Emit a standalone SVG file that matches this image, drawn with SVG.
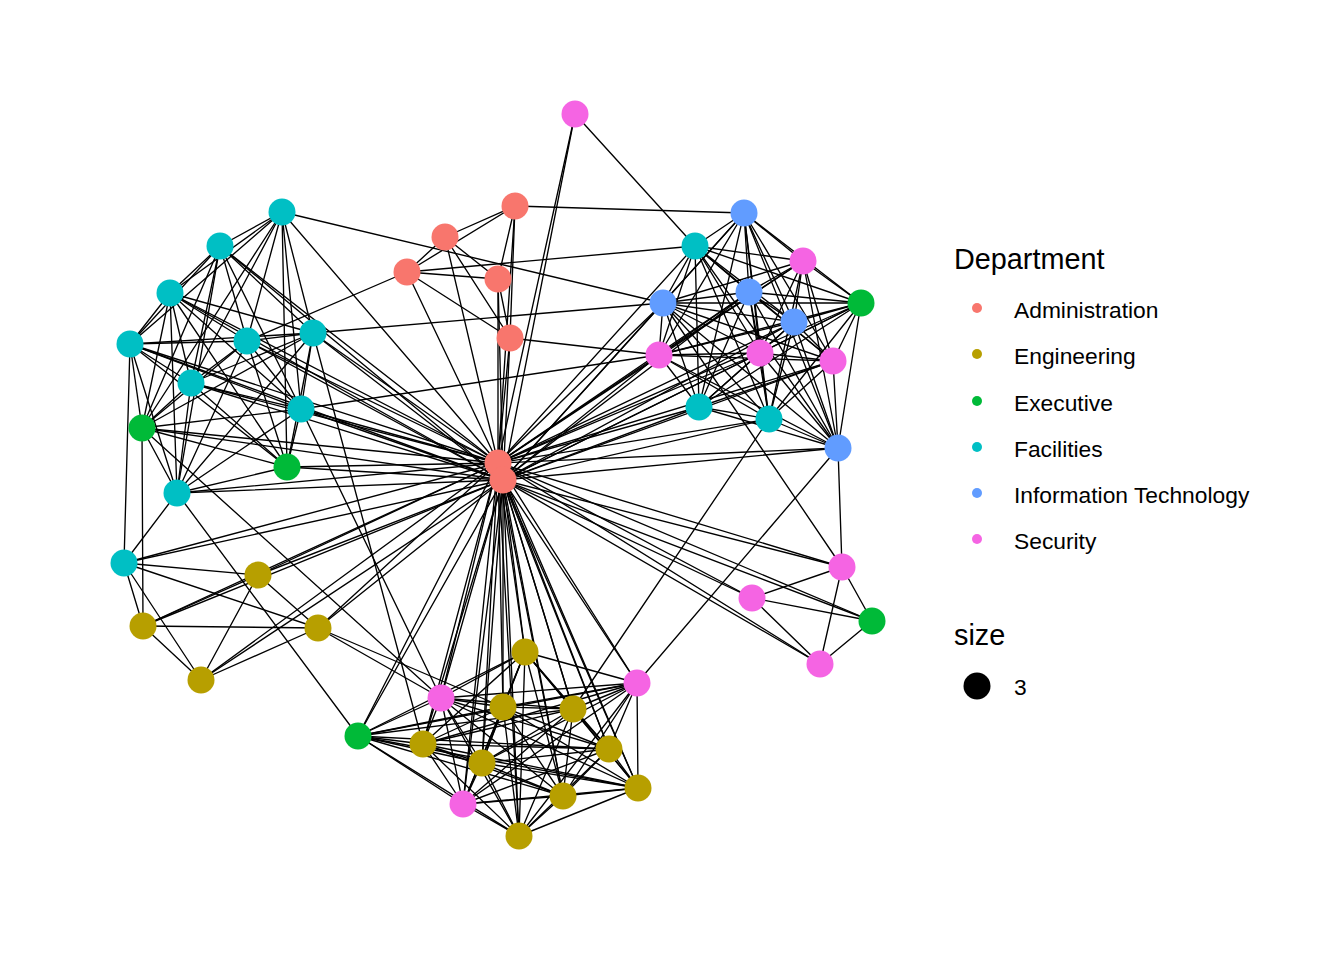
<svg xmlns="http://www.w3.org/2000/svg" width="1344" height="960" viewBox="0 0 1344 960">
<style>
#edges line{stroke:#000;stroke-width:1.35;stroke-linecap:round}
.n{stroke:none}
.adm{fill:#F8766D}.eng{fill:#B79F00}.exe{fill:#00BA38}.fac{fill:#00BFC4}.it{fill:#619CFF}.sec{fill:#F564E3}
text{font-family:"Liberation Sans",Arial,sans-serif;fill:#000}
.lt{font-size:28.8px}.ll{font-size:22.8px}
</style>
<rect width="1344" height="960" fill="#fff"/>
<g id="edges">
<!-- administration -->
<line x1="515" y1="206" x2="445" y2="237"/><line x1="515" y1="206" x2="407" y2="272"/><line x1="515" y1="206" x2="498" y2="279"/><line x1="515" y1="206" x2="510" y2="338"/><line x1="515" y1="206" x2="498" y2="463"/><line x1="515" y1="206" x2="744" y2="213"/>
<line x1="445" y1="237" x2="407" y2="272"/><line x1="445" y1="237" x2="498" y2="279"/><line x1="445" y1="237" x2="510" y2="338"/><line x1="445" y1="237" x2="498" y2="463"/>
<line x1="407" y1="272" x2="498" y2="279"/><line x1="407" y1="272" x2="510" y2="338"/><line x1="407" y1="272" x2="498" y2="463"/><line x1="407" y1="272" x2="695" y2="246"/><line x1="407" y1="272" x2="247" y2="341"/>
<line x1="498" y1="279" x2="498" y2="463"/><line x1="498" y1="279" x2="503" y2="480"/><line x1="498" y1="279" x2="510" y2="338"/>
<line x1="510" y1="338" x2="498" y2="463"/><line x1="510" y1="338" x2="503" y2="480"/><line x1="510" y1="338" x2="659" y2="355"/>
<line x1="575" y1="114" x2="498" y2="463"/><line x1="575" y1="114" x2="503" y2="480"/><line x1="575" y1="114" x2="695" y2="246"/>
<line x1="498" y1="463" x2="503" y2="480"/>
<line x1="282" y1="212" x2="663" y2="303"/><line x1="313" y1="333" x2="663" y2="303"/><line x1="301" y1="409" x2="659" y2="355"/>
<!-- left cluster -->
<line x1="282" y1="212" x2="220" y2="246"/><line x1="282" y1="212" x2="170" y2="293"/><line x1="282" y1="212" x2="130" y2="344"/><line x1="282" y1="212" x2="247" y2="341"/><line x1="282" y1="212" x2="313" y2="333"/><line x1="282" y1="212" x2="191" y2="383"/><line x1="282" y1="212" x2="301" y2="409"/><line x1="282" y1="212" x2="287" y2="467"/><line x1="282" y1="212" x2="142" y2="428"/>
<line x1="220" y1="246" x2="170" y2="293"/><line x1="220" y1="246" x2="130" y2="344"/><line x1="220" y1="246" x2="247" y2="341"/><line x1="220" y1="246" x2="313" y2="333"/><line x1="220" y1="246" x2="191" y2="383"/><line x1="220" y1="246" x2="301" y2="409"/><line x1="220" y1="246" x2="142" y2="428"/><line x1="220" y1="246" x2="177" y2="493"/>
<line x1="170" y1="293" x2="130" y2="344"/><line x1="170" y1="293" x2="247" y2="341"/><line x1="170" y1="293" x2="313" y2="333"/><line x1="170" y1="293" x2="191" y2="383"/><line x1="170" y1="293" x2="301" y2="409"/><line x1="170" y1="293" x2="142" y2="428"/><line x1="170" y1="293" x2="177" y2="493"/><line x1="170" y1="293" x2="287" y2="467"/>
<line x1="130" y1="344" x2="247" y2="341"/><line x1="130" y1="344" x2="313" y2="333"/><line x1="130" y1="344" x2="191" y2="383"/><line x1="130" y1="344" x2="301" y2="409"/><line x1="130" y1="344" x2="142" y2="428"/><line x1="130" y1="344" x2="177" y2="493"/><line x1="130" y1="344" x2="287" y2="467"/><line x1="130" y1="344" x2="124" y2="563"/>
<line x1="247" y1="341" x2="313" y2="333"/><line x1="247" y1="341" x2="191" y2="383"/><line x1="247" y1="341" x2="301" y2="409"/><line x1="247" y1="341" x2="142" y2="428"/><line x1="247" y1="341" x2="177" y2="493"/><line x1="247" y1="341" x2="287" y2="467"/>
<line x1="313" y1="333" x2="191" y2="383"/><line x1="313" y1="333" x2="301" y2="409"/><line x1="313" y1="333" x2="142" y2="428"/><line x1="313" y1="333" x2="287" y2="467"/><line x1="313" y1="333" x2="177" y2="493"/>
<line x1="191" y1="383" x2="301" y2="409"/><line x1="191" y1="383" x2="142" y2="428"/><line x1="191" y1="383" x2="177" y2="493"/><line x1="191" y1="383" x2="287" y2="467"/>
<line x1="301" y1="409" x2="142" y2="428"/><line x1="301" y1="409" x2="177" y2="493"/><line x1="301" y1="409" x2="287" y2="467"/>
<line x1="142" y1="428" x2="177" y2="493"/><line x1="142" y1="428" x2="287" y2="467"/><line x1="142" y1="428" x2="143" y2="626"/><line x1="142" y1="428" x2="441" y2="698"/>
<line x1="177" y1="493" x2="287" y2="467"/><line x1="177" y1="493" x2="124" y2="563"/><line x1="177" y1="493" x2="358" y2="736"/>
<line x1="124" y1="563" x2="258" y2="575"/><line x1="124" y1="563" x2="143" y2="626"/><line x1="124" y1="563" x2="318" y2="628"/><line x1="124" y1="563" x2="201" y2="680"/>
<line x1="258" y1="575" x2="143" y2="626"/><line x1="258" y1="575" x2="318" y2="628"/><line x1="258" y1="575" x2="201" y2="680"/>
<line x1="143" y1="626" x2="318" y2="628"/><line x1="143" y1="626" x2="201" y2="680"/><line x1="201" y1="680" x2="318" y2="628"/>
<line x1="318" y1="628" x2="441" y2="698"/><line x1="318" y1="628" x2="503" y2="707"/>
<line x1="313" y1="333" x2="423" y2="744"/><line x1="301" y1="409" x2="441" y2="698"/>
<!-- hub to left -->
<line x1="498" y1="463" x2="282" y2="212"/><line x1="498" y1="463" x2="220" y2="246"/><line x1="498" y1="463" x2="170" y2="293"/><line x1="498" y1="463" x2="130" y2="344"/><line x1="498" y1="463" x2="247" y2="341"/><line x1="498" y1="463" x2="313" y2="333"/><line x1="498" y1="463" x2="191" y2="383"/><line x1="498" y1="463" x2="301" y2="409"/><line x1="498" y1="463" x2="177" y2="493"/><line x1="498" y1="463" x2="124" y2="563"/><line x1="498" y1="463" x2="142" y2="428"/><line x1="498" y1="463" x2="287" y2="467"/><line x1="498" y1="463" x2="258" y2="575"/><line x1="498" y1="463" x2="143" y2="626"/><line x1="498" y1="463" x2="318" y2="628"/><line x1="498" y1="463" x2="201" y2="680"/>
<line x1="503" y1="480" x2="220" y2="246"/><line x1="503" y1="480" x2="170" y2="293"/><line x1="503" y1="480" x2="130" y2="344"/><line x1="503" y1="480" x2="247" y2="341"/><line x1="503" y1="480" x2="313" y2="333"/><line x1="503" y1="480" x2="191" y2="383"/><line x1="503" y1="480" x2="301" y2="409"/><line x1="503" y1="480" x2="177" y2="493"/><line x1="503" y1="480" x2="124" y2="563"/><line x1="503" y1="480" x2="142" y2="428"/><line x1="503" y1="480" x2="287" y2="467"/><line x1="503" y1="480" x2="258" y2="575"/><line x1="503" y1="480" x2="143" y2="626"/><line x1="503" y1="480" x2="318" y2="628"/><line x1="503" y1="480" x2="201" y2="680"/>
<!-- hub to bottom -->
<line x1="498" y1="463" x2="525" y2="652"/><line x1="498" y1="463" x2="503" y2="707"/><line x1="498" y1="463" x2="573" y2="709"/><line x1="498" y1="463" x2="423" y2="744"/><line x1="498" y1="463" x2="609" y2="749"/><line x1="498" y1="463" x2="482" y2="763"/><line x1="498" y1="463" x2="563" y2="796"/><line x1="498" y1="463" x2="638" y2="788"/><line x1="498" y1="463" x2="519" y2="836"/><line x1="498" y1="463" x2="441" y2="698"/><line x1="498" y1="463" x2="463" y2="804"/><line x1="498" y1="463" x2="637" y2="683"/><line x1="498" y1="463" x2="358" y2="736"/>
<line x1="503" y1="480" x2="525" y2="652"/><line x1="503" y1="480" x2="503" y2="707"/><line x1="503" y1="480" x2="573" y2="709"/><line x1="503" y1="480" x2="423" y2="744"/><line x1="503" y1="480" x2="609" y2="749"/><line x1="503" y1="480" x2="482" y2="763"/><line x1="503" y1="480" x2="563" y2="796"/><line x1="503" y1="480" x2="638" y2="788"/><line x1="503" y1="480" x2="519" y2="836"/><line x1="503" y1="480" x2="441" y2="698"/><line x1="503" y1="480" x2="463" y2="804"/><line x1="503" y1="480" x2="637" y2="683"/><line x1="503" y1="480" x2="358" y2="736"/>
<!-- hub to right -->
<line x1="498" y1="463" x2="663" y2="303"/><line x1="498" y1="463" x2="659" y2="355"/><line x1="498" y1="463" x2="749" y2="292"/><line x1="498" y1="463" x2="760" y2="353"/><line x1="498" y1="463" x2="794" y2="322"/><line x1="498" y1="463" x2="833" y2="361"/><line x1="498" y1="463" x2="699" y2="407"/><line x1="498" y1="463" x2="769" y2="419"/><line x1="498" y1="463" x2="838" y2="448"/><line x1="498" y1="463" x2="861" y2="303"/><line x1="498" y1="463" x2="803" y2="261"/><line x1="498" y1="463" x2="695" y2="246"/>
<line x1="503" y1="480" x2="663" y2="303"/><line x1="503" y1="480" x2="659" y2="355"/><line x1="503" y1="480" x2="749" y2="292"/><line x1="503" y1="480" x2="760" y2="353"/><line x1="503" y1="480" x2="794" y2="322"/><line x1="503" y1="480" x2="833" y2="361"/><line x1="503" y1="480" x2="699" y2="407"/><line x1="503" y1="480" x2="769" y2="419"/><line x1="503" y1="480" x2="838" y2="448"/><line x1="503" y1="480" x2="861" y2="303"/><line x1="503" y1="480" x2="744" y2="213"/>
<line x1="498" y1="463" x2="842" y2="567"/><line x1="498" y1="463" x2="752" y2="598"/><line x1="498" y1="463" x2="872" y2="621"/><line x1="498" y1="463" x2="820" y2="664"/>
<line x1="503" y1="480" x2="842" y2="567"/><line x1="503" y1="480" x2="752" y2="598"/><line x1="503" y1="480" x2="872" y2="621"/><line x1="503" y1="480" x2="820" y2="664"/>
<!-- right cluster -->
<line x1="744" y1="213" x2="695" y2="246"/><line x1="744" y1="213" x2="803" y2="261"/><line x1="744" y1="213" x2="749" y2="292"/><line x1="744" y1="213" x2="861" y2="303"/><line x1="744" y1="213" x2="663" y2="303"/><line x1="744" y1="213" x2="794" y2="322"/><line x1="744" y1="213" x2="659" y2="355"/><line x1="744" y1="213" x2="760" y2="353"/><line x1="744" y1="213" x2="833" y2="361"/><line x1="744" y1="213" x2="699" y2="407"/><line x1="744" y1="213" x2="769" y2="419"/><line x1="744" y1="213" x2="838" y2="448"/>
<line x1="695" y1="246" x2="803" y2="261"/><line x1="695" y1="246" x2="749" y2="292"/><line x1="695" y1="246" x2="861" y2="303"/><line x1="695" y1="246" x2="663" y2="303"/><line x1="695" y1="246" x2="794" y2="322"/><line x1="695" y1="246" x2="659" y2="355"/><line x1="695" y1="246" x2="760" y2="353"/><line x1="695" y1="246" x2="833" y2="361"/><line x1="695" y1="246" x2="699" y2="407"/><line x1="695" y1="246" x2="769" y2="419"/><line x1="695" y1="246" x2="838" y2="448"/>
<line x1="803" y1="261" x2="749" y2="292"/><line x1="803" y1="261" x2="861" y2="303"/><line x1="803" y1="261" x2="663" y2="303"/><line x1="803" y1="261" x2="794" y2="322"/><line x1="803" y1="261" x2="659" y2="355"/><line x1="803" y1="261" x2="760" y2="353"/><line x1="803" y1="261" x2="833" y2="361"/><line x1="803" y1="261" x2="769" y2="419"/><line x1="803" y1="261" x2="838" y2="448"/>
<line x1="749" y1="292" x2="861" y2="303"/><line x1="749" y1="292" x2="663" y2="303"/><line x1="749" y1="292" x2="794" y2="322"/><line x1="749" y1="292" x2="659" y2="355"/><line x1="749" y1="292" x2="760" y2="353"/><line x1="749" y1="292" x2="833" y2="361"/><line x1="749" y1="292" x2="699" y2="407"/><line x1="749" y1="292" x2="769" y2="419"/><line x1="749" y1="292" x2="838" y2="448"/>
<line x1="861" y1="303" x2="663" y2="303"/><line x1="861" y1="303" x2="794" y2="322"/><line x1="861" y1="303" x2="659" y2="355"/><line x1="861" y1="303" x2="760" y2="353"/><line x1="861" y1="303" x2="833" y2="361"/><line x1="861" y1="303" x2="699" y2="407"/><line x1="861" y1="303" x2="769" y2="419"/><line x1="861" y1="303" x2="838" y2="448"/>
<line x1="663" y1="303" x2="794" y2="322"/><line x1="663" y1="303" x2="659" y2="355"/><line x1="663" y1="303" x2="760" y2="353"/><line x1="663" y1="303" x2="833" y2="361"/><line x1="663" y1="303" x2="699" y2="407"/><line x1="663" y1="303" x2="769" y2="419"/><line x1="663" y1="303" x2="838" y2="448"/>
<line x1="794" y1="322" x2="659" y2="355"/><line x1="794" y1="322" x2="760" y2="353"/><line x1="794" y1="322" x2="833" y2="361"/><line x1="794" y1="322" x2="699" y2="407"/><line x1="794" y1="322" x2="769" y2="419"/><line x1="794" y1="322" x2="838" y2="448"/>
<line x1="659" y1="355" x2="760" y2="353"/><line x1="659" y1="355" x2="833" y2="361"/><line x1="659" y1="355" x2="699" y2="407"/><line x1="659" y1="355" x2="769" y2="419"/><line x1="659" y1="355" x2="838" y2="448"/>
<line x1="760" y1="353" x2="833" y2="361"/><line x1="760" y1="353" x2="699" y2="407"/><line x1="760" y1="353" x2="769" y2="419"/><line x1="760" y1="353" x2="838" y2="448"/>
<line x1="833" y1="361" x2="699" y2="407"/><line x1="833" y1="361" x2="769" y2="419"/><line x1="833" y1="361" x2="838" y2="448"/>
<line x1="699" y1="407" x2="769" y2="419"/><line x1="699" y1="407" x2="838" y2="448"/><line x1="769" y1="419" x2="838" y2="448"/>
<!-- lower right -->
<line x1="838" y1="448" x2="842" y2="567"/><line x1="838" y1="448" x2="637" y2="683"/><line x1="663" y1="303" x2="842" y2="567"/><line x1="769" y1="419" x2="573" y2="709"/>
<line x1="842" y1="567" x2="752" y2="598"/><line x1="842" y1="567" x2="872" y2="621"/><line x1="842" y1="567" x2="820" y2="664"/><line x1="752" y1="598" x2="872" y2="621"/><line x1="752" y1="598" x2="820" y2="664"/><line x1="872" y1="621" x2="820" y2="664"/>
<!-- bottom cluster -->
<line x1="525" y1="652" x2="503" y2="707"/><line x1="525" y1="652" x2="573" y2="709"/><line x1="525" y1="652" x2="423" y2="744"/><line x1="525" y1="652" x2="609" y2="749"/><line x1="525" y1="652" x2="482" y2="763"/><line x1="525" y1="652" x2="563" y2="796"/><line x1="525" y1="652" x2="638" y2="788"/><line x1="525" y1="652" x2="519" y2="836"/><line x1="525" y1="652" x2="441" y2="698"/><line x1="525" y1="652" x2="637" y2="683"/><line x1="525" y1="652" x2="358" y2="736"/><line x1="525" y1="652" x2="463" y2="804"/>
<line x1="503" y1="707" x2="573" y2="709"/><line x1="503" y1="707" x2="423" y2="744"/><line x1="503" y1="707" x2="609" y2="749"/><line x1="503" y1="707" x2="482" y2="763"/><line x1="503" y1="707" x2="563" y2="796"/><line x1="503" y1="707" x2="638" y2="788"/><line x1="503" y1="707" x2="519" y2="836"/><line x1="503" y1="707" x2="441" y2="698"/><line x1="503" y1="707" x2="637" y2="683"/><line x1="503" y1="707" x2="463" y2="804"/><line x1="503" y1="707" x2="358" y2="736"/>
<line x1="573" y1="709" x2="423" y2="744"/><line x1="573" y1="709" x2="609" y2="749"/><line x1="573" y1="709" x2="482" y2="763"/><line x1="573" y1="709" x2="563" y2="796"/><line x1="573" y1="709" x2="638" y2="788"/><line x1="573" y1="709" x2="519" y2="836"/><line x1="573" y1="709" x2="441" y2="698"/><line x1="573" y1="709" x2="637" y2="683"/><line x1="573" y1="709" x2="463" y2="804"/><line x1="573" y1="709" x2="358" y2="736"/>
<line x1="423" y1="744" x2="609" y2="749"/><line x1="423" y1="744" x2="482" y2="763"/><line x1="423" y1="744" x2="563" y2="796"/><line x1="423" y1="744" x2="638" y2="788"/><line x1="423" y1="744" x2="519" y2="836"/><line x1="423" y1="744" x2="441" y2="698"/><line x1="423" y1="744" x2="637" y2="683"/><line x1="423" y1="744" x2="463" y2="804"/><line x1="423" y1="744" x2="358" y2="736"/>
<line x1="609" y1="749" x2="482" y2="763"/><line x1="609" y1="749" x2="563" y2="796"/><line x1="609" y1="749" x2="638" y2="788"/><line x1="609" y1="749" x2="519" y2="836"/><line x1="609" y1="749" x2="441" y2="698"/><line x1="609" y1="749" x2="637" y2="683"/><line x1="609" y1="749" x2="463" y2="804"/><line x1="609" y1="749" x2="358" y2="736"/>
<line x1="482" y1="763" x2="563" y2="796"/><line x1="482" y1="763" x2="638" y2="788"/><line x1="482" y1="763" x2="519" y2="836"/><line x1="482" y1="763" x2="441" y2="698"/><line x1="482" y1="763" x2="637" y2="683"/><line x1="482" y1="763" x2="463" y2="804"/><line x1="482" y1="763" x2="358" y2="736"/>
<line x1="563" y1="796" x2="638" y2="788"/><line x1="563" y1="796" x2="519" y2="836"/><line x1="563" y1="796" x2="441" y2="698"/><line x1="563" y1="796" x2="637" y2="683"/><line x1="563" y1="796" x2="463" y2="804"/><line x1="563" y1="796" x2="358" y2="736"/>
<line x1="638" y1="788" x2="519" y2="836"/><line x1="638" y1="788" x2="441" y2="698"/><line x1="638" y1="788" x2="637" y2="683"/><line x1="638" y1="788" x2="463" y2="804"/><line x1="638" y1="788" x2="358" y2="736"/>
<line x1="519" y1="836" x2="441" y2="698"/><line x1="519" y1="836" x2="637" y2="683"/><line x1="519" y1="836" x2="463" y2="804"/><line x1="519" y1="836" x2="358" y2="736"/>
<line x1="441" y1="698" x2="637" y2="683"/><line x1="441" y1="698" x2="463" y2="804"/><line x1="441" y1="698" x2="358" y2="736"/>
<line x1="637" y1="683" x2="463" y2="804"/><line x1="637" y1="683" x2="358" y2="736"/><line x1="463" y1="804" x2="358" y2="736"/>
</g>
<g id="nodes">
<g id="n-admin-1"><circle class="n adm" cx="515" cy="206" r="13.5"/></g>
<g id="n-admin-2"><circle class="n adm" cx="445" cy="237" r="13.5"/></g>
<g id="n-admin-3"><circle class="n adm" cx="407" cy="272" r="13.5"/></g>
<g id="n-admin-4"><circle class="n adm" cx="498" cy="279" r="13.5"/></g>
<g id="n-admin-5"><circle class="n adm" cx="510" cy="338" r="13.5"/></g>
<g id="n-admin-6"><circle class="n adm" cx="498" cy="463" r="13.5"/></g>
<g id="n-admin-7"><circle class="n adm" cx="503" cy="480" r="13.5"/></g>
<g id="n-eng-1"><circle class="n eng" cx="258" cy="575" r="13.5"/></g>
<g id="n-eng-2"><circle class="n eng" cx="143" cy="626" r="13.5"/></g>
<g id="n-eng-3"><circle class="n eng" cx="318" cy="628" r="13.5"/></g>
<g id="n-eng-4"><circle class="n eng" cx="201" cy="680" r="13.5"/></g>
<g id="n-eng-5"><circle class="n eng" cx="525" cy="652" r="13.5"/></g>
<g id="n-eng-6"><circle class="n eng" cx="503" cy="707" r="13.5"/></g>
<g id="n-eng-7"><circle class="n eng" cx="573" cy="709" r="13.5"/></g>
<g id="n-eng-8"><circle class="n eng" cx="423" cy="744" r="13.5"/></g>
<g id="n-eng-9"><circle class="n eng" cx="609" cy="749" r="13.5"/></g>
<g id="n-eng-10"><circle class="n eng" cx="482" cy="763" r="13.5"/></g>
<g id="n-eng-11"><circle class="n eng" cx="563" cy="796" r="13.5"/></g>
<g id="n-eng-12"><circle class="n eng" cx="638" cy="788" r="13.5"/></g>
<g id="n-eng-13"><circle class="n eng" cx="519" cy="836" r="13.5"/></g>
<g id="n-exe-1"><circle class="n exe" cx="861" cy="303" r="13.5"/></g>
<g id="n-exe-2"><circle class="n exe" cx="142" cy="428" r="13.5"/></g>
<g id="n-exe-3"><circle class="n exe" cx="287" cy="467" r="13.5"/></g>
<g id="n-exe-4"><circle class="n exe" cx="872" cy="621" r="13.5"/></g>
<g id="n-exe-5"><circle class="n exe" cx="358" cy="736" r="13.5"/></g>
<g id="n-fac-1"><circle class="n fac" cx="282" cy="212" r="13.5"/></g>
<g id="n-fac-2"><circle class="n fac" cx="220" cy="246" r="13.5"/></g>
<g id="n-fac-3"><circle class="n fac" cx="170" cy="293" r="13.5"/></g>
<g id="n-fac-4"><circle class="n fac" cx="130" cy="344" r="13.5"/></g>
<g id="n-fac-5"><circle class="n fac" cx="247" cy="341" r="13.5"/></g>
<g id="n-fac-6"><circle class="n fac" cx="313" cy="333" r="13.5"/></g>
<g id="n-fac-7"><circle class="n fac" cx="191" cy="383" r="13.5"/></g>
<g id="n-fac-8"><circle class="n fac" cx="301" cy="409" r="13.5"/></g>
<g id="n-fac-9"><circle class="n fac" cx="177" cy="493" r="13.5"/></g>
<g id="n-fac-10"><circle class="n fac" cx="124" cy="563" r="13.5"/></g>
<g id="n-fac-11"><circle class="n fac" cx="695" cy="246" r="13.5"/></g>
<g id="n-fac-12"><circle class="n fac" cx="699" cy="407" r="13.5"/></g>
<g id="n-fac-13"><circle class="n fac" cx="769" cy="419" r="13.5"/></g>
<g id="n-it-1"><circle class="n it" cx="744" cy="213" r="13.5"/></g>
<g id="n-it-2"><circle class="n it" cx="663" cy="303" r="13.5"/></g>
<g id="n-it-3"><circle class="n it" cx="749" cy="292" r="13.5"/></g>
<g id="n-it-4"><circle class="n it" cx="794" cy="322" r="13.5"/></g>
<g id="n-it-5"><circle class="n it" cx="838" cy="448" r="13.5"/></g>
<g id="n-sec-1"><circle class="n sec" cx="575" cy="114" r="13.5"/></g>
<g id="n-sec-2"><circle class="n sec" cx="803" cy="261" r="13.5"/></g>
<g id="n-sec-3"><circle class="n sec" cx="659" cy="355" r="13.5"/></g>
<g id="n-sec-4"><circle class="n sec" cx="760" cy="353" r="13.5"/></g>
<g id="n-sec-5"><circle class="n sec" cx="833" cy="361" r="13.5"/></g>
<g id="n-sec-6"><circle class="n sec" cx="842" cy="567" r="13.5"/></g>
<g id="n-sec-7"><circle class="n sec" cx="752" cy="598" r="13.5"/></g>
<g id="n-sec-8"><circle class="n sec" cx="820" cy="664" r="13.5"/></g>
<g id="n-sec-9"><circle class="n sec" cx="441" cy="698" r="13.5"/></g>
<g id="n-sec-10"><circle class="n sec" cx="637" cy="683" r="13.5"/></g>
<g id="n-sec-11"><circle class="n sec" cx="463" cy="804" r="13.5"/></g>
</g>
<g id="legend">
<text class="lt" x="954" y="269">Department</text>
<circle class="adm" cx="977" cy="308" r="5"/><text class="ll" x="1014" y="318">Administration</text>
<circle class="eng" cx="977" cy="354" r="5"/><text class="ll" x="1014" y="364">Engineering</text>
<circle class="exe" cx="977" cy="401" r="5"/><text class="ll" x="1014" y="411">Executive</text>
<circle class="fac" cx="977" cy="447" r="5"/><text class="ll" x="1014" y="457">Facilities</text>
<circle class="it" cx="977" cy="493" r="5"/><text class="ll" x="1014" y="503">Information Technology</text>
<circle class="sec" cx="977" cy="539" r="5"/><text class="ll" x="1014" y="549">Security</text>
<text class="lt" x="954" y="645">size</text>
<circle cx="977" cy="686" r="13.5" fill="#000"/><text class="ll" x="1014" y="695">3</text>
</g>
</svg>
